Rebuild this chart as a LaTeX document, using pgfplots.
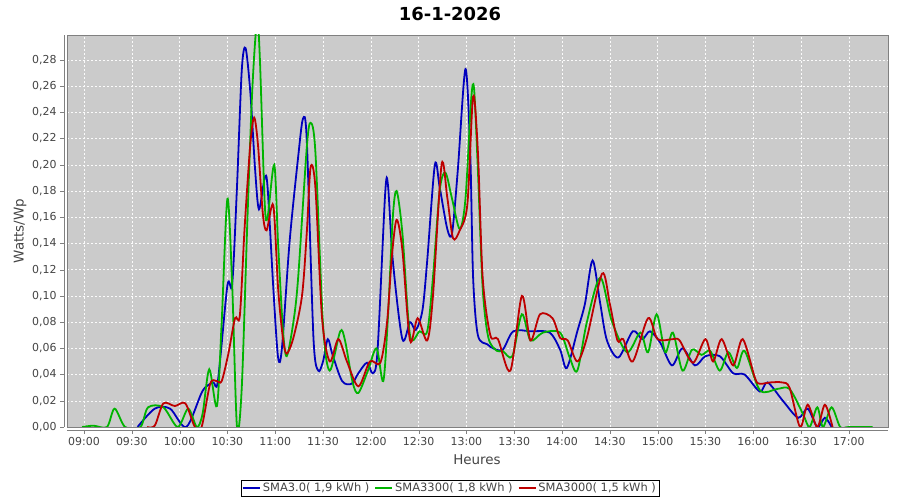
\documentclass[border=0pt]{standalone}
\usepackage{pgfplots}
\pgfplotsset{compat=1.18}
\usepackage{fontspec}
\setmainfont{DejaVu Sans}

\definecolor{plotbg}{RGB}{203,203,203}
\definecolor{axgray}{RGB}{128,128,128}
\definecolor{txtgray}{RGB}{68,68,68}
\definecolor{sblue}{RGB}{0,0,190}
\definecolor{sgreen}{RGB}{0,180,0}
\definecolor{sred}{RGB}{190,0,0}

\begin{document}
\begin{tikzpicture}[x=1bp,y=1bp]
  \path[use as bounding box] (0,0) rectangle (900,500);

  \begin{axis}[
      name=main,
      at={(67bp,73bp)}, anchor=south west,
      scale only axis, width=821bp, height=392bp,
      xmin=8.822, xmax=17.41,
      ymin=0, ymax=0.299,
      axis background/.style={fill=plotbg},
      axis line style={axgray, line width=0.8bp},
      xtick={9,9.5,...,17},
      xticklabels={09:00,09:30,10:00,10:30,11:00,11:30,12:00,12:30,13:00,13:30,14:00,14:30,15:00,15:30,16:00,16:30,17:00},
      ytick={0,0.02,0.04,0.06,0.08,0.10,0.12,0.14,0.16,0.18,0.20,0.22,0.24,0.26,0.28},
      scaled y ticks=false,
      /pgf/number format/assume math mode=true,
      yticklabel style={/pgf/number format/fixed, /pgf/number format/fixed zerofill,
        /pgf/number format/precision=2, /pgf/number format/use comma, xshift=-3bp},
      xticklabel style={yshift=-3bp},
      ticklabel style={font=\fontsize{11}{13}\selectfont, text=txtgray},
      tick align=outside, major tick length=4bp,
      xtick pos=bottom, ytick pos=left,
      xtick style={axgray, yshift=-3bp},
      ytick style={axgray, xshift=-3bp},
      grid=major,
      major grid style={white!92!plotbg, line width=0.5bp, dash pattern=on 2bp off 2bp},
      legend style={at={(0.4665,-0.1556)}, anchor=center, draw=black, line width=0.6bp,
        font=\fontsize{11.5}{13}\selectfont, text=txtgray, legend columns=3,
        inner sep=1bp, /tikz/every even column/.append style={column sep=3bp}},
      legend image post style={line width=1.8bp},
      every axis plot/.append style={line width=1.8bp, smooth, no markers},
    ]

    % SMA3.0
    \addplot[sblue] coordinates {
      (9.56,0) (9.74,0.014) (9.90,0.014) (10.07,0) (10.24,0.0275) (10.35,0.034)
      (10.40,0.035) (10.50,0.108) (10.55,0.109) (10.60,0.183) (10.65,0.272)
      (10.69,0.289) (10.74,0.255) (10.79,0.196) (10.83,0.166) (10.89,0.19)
      (10.92,0.183) (10.98,0.106) (11.03,0.053) (11.07,0.06) (11.15,0.141)
      (11.24,0.206) (11.29,0.235) (11.33,0.219) (11.40,0.068) (11.45,0.043)
      (11.50,0.05) (11.55,0.067) (11.60,0.055) (11.70,0.035) (11.80,0.033)
      (11.87,0.041) (11.96,0.049) (12.02,0.041) (12.07,0.058) (12.15,0.178)
      (12.18,0.184) (12.23,0.127) (12.33,0.067) (12.41,0.08) (12.47,0.074)
      (12.54,0.089) (12.59,0.127) (12.67,0.20) (12.72,0.183) (12.80,0.151)
      (12.85,0.148) (12.91,0.196) (12.99,0.273) (13.04,0.209) (13.07,0.114)
      (13.12,0.07) (13.22,0.063) (13.28,0.06) (13.38,0.059) (13.49,0.073)
      (13.67,0.073) (13.87,0.072) (13.98,0.059) (14.05,0.045) (14.16,0.073)
      (14.24,0.094) (14.32,0.127) (14.40,0.094) (14.47,0.066) (14.59,0.053)
      (14.74,0.073) (14.84,0.067) (14.92,0.073) (15.03,0.064) (15.15,0.047)
      (15.26,0.06) (15.39,0.047) (15.50,0.054) (15.65,0.054) (15.79,0.041)
      (15.91,0.040) (16.07,0.027) (16.15,0.034) (16.31,0.020) (16.47,0.007)
      (16.57,0.014) (16.67,0) (16.75,0.007) (16.82,0)
    };
    \addlegendentry{SMA3.0( 1,9 kWh )}

    % SMA3300
    \addplot[sgreen] coordinates {
      (8.98,0) (9.10,0.001) (9.24,0) (9.32,0.014) (9.43,0) (9.59,0) (9.67,0.015)
      (9.83,0.015) (9.98,0) (10.09,0.014) (10.18,0) (10.24,0.01) (10.31,0.044)
      (10.39,0.016) (10.44,0.08) (10.50,0.174) (10.55,0.108) (10.60,0)
      (10.65,0.03) (10.71,0.16) (10.76,0.257) (10.81,0.31) (10.84,0.28)
      (10.89,0.171) (10.92,0.16) (10.99,0.20) (11.03,0.14) (11.08,0.075)
      (11.12,0.054) (11.19,0.08) (11.24,0.114) (11.33,0.213) (11.37,0.232)
      (11.42,0.21) (11.50,0.078) (11.57,0.043) (11.68,0.073) (11.73,0.066)
      (11.81,0.034) (11.87,0.026) (11.97,0.043) (12.06,0.06) (12.13,0.035)
      (12.18,0.085) (12.23,0.16) (12.27,0.18) (12.33,0.148) (12.41,0.07)
      (12.51,0.073) (12.59,0.073) (12.65,0.114) (12.72,0.18) (12.78,0.194)
      (12.85,0.174) (12.93,0.151) (12.99,0.174) (13.05,0.25) (13.08,0.258)
      (13.12,0.196) (13.17,0.106) (13.23,0.068) (13.32,0.058) (13.38,0.058)
      (13.48,0.054) (13.58,0.086) (13.67,0.066) (13.80,0.072) (13.98,0.072)
      (14.08,0.053) (14.16,0.043) (14.26,0.08) (14.40,0.114) (14.52,0.081)
      (14.68,0.057) (14.82,0.072) (14.90,0.057) (14.99,0.086) (15.08,0.057)
      (15.16,0.072) (15.26,0.043) (15.36,0.059) (15.46,0.055) (15.55,0.058)
      (15.65,0.043) (15.74,0.057) (15.83,0.045) (15.91,0.058) (16.07,0.028)
      (16.25,0.029) (16.38,0.029) (16.52,0.010) (16.59,0) (16.67,0.015)
      (16.73,0) (16.82,0.015) (16.91,0) (17.00,0) (17.25,0)
    };
    \addlegendentry{SMA3300( 1,8 kWh )}

    % SMA3000
    \addplot[sred] coordinates {
      (9.66,0) (9.74,0.001) (9.83,0.018) (9.95,0.016) (10.06,0.018) (10.16,0)
      (10.23,0) (10.32,0.033) (10.39,0.035) (10.44,0.035) (10.51,0.056)
      (10.58,0.083) (10.63,0.085) (10.68,0.152) (10.74,0.216) (10.78,0.236)
      (10.82,0.215) (10.87,0.163) (10.91,0.15) (10.98,0.169) (11.03,0.106)
      (11.08,0.068) (11.12,0.056) (11.19,0.068) (11.28,0.10) (11.33,0.148)
      (11.37,0.198) (11.42,0.183) (11.49,0.083) (11.57,0.05) (11.66,0.067)
      (11.75,0.05) (11.87,0.031) (11.99,0.05) (12.10,0.049) (12.17,0.08)
      (12.22,0.13) (12.27,0.158) (12.33,0.135) (12.41,0.066) (12.49,0.083)
      (12.59,0.066) (12.65,0.10) (12.74,0.20) (12.80,0.175) (12.86,0.144)
      (12.93,0.15) (13.01,0.17) (13.07,0.252) (13.12,0.21) (13.17,0.114)
      (13.25,0.07) (13.33,0.067) (13.46,0.043) (13.58,0.10) (13.67,0.066)
      (13.77,0.086) (13.90,0.083) (13.98,0.068) (14.06,0.066) (14.16,0.05)
      (14.26,0.068) (14.42,0.117) (14.50,0.094) (14.58,0.066) (14.64,0.067)
      (14.74,0.05) (14.90,0.083) (15.00,0.067) (15.16,0.067) (15.23,0.066)
      (15.37,0.049) (15.50,0.067) (15.58,0.05) (15.67,0.067) (15.79,0.047)
      (15.89,0.067) (16.02,0.037) (16.07,0.033) (16.18,0.034) (16.30,0.034)
      (16.38,0.03) (16.49,0) (16.57,0.017) (16.67,0) (16.75,0.017) (16.83,0)
    };
    \addlegendentry{SMA3000( 1,5 kWh )}
  \end{axis}

  % offset axis lines, as in the original
  \draw[axgray, line width=0.8bp] ([xshift=-3bp]main.south west) -- ([xshift=-3bp]main.north west);
  \draw[axgray, line width=0.8bp] ([yshift=-3bp]main.south west) -- ([yshift=-3bp]main.south east);

  \node[font=\fontsize{18}{20}\selectfont\bfseries] at (450,486) {16-1-2026};
  \node[font=\fontsize{13.5}{15}\selectfont, text=txtgray] at (477,40) {Heures};
  \node[font=\fontsize{13.5}{15}\selectfont, text=txtgray, rotate=90] at (20,269) {Watts/Wp};
\end{tikzpicture}
\end{document}
